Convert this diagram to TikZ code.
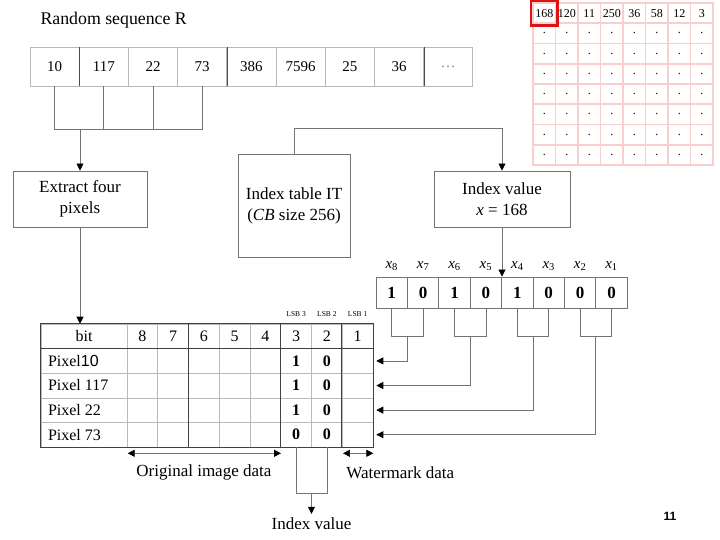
\documentclass[tikz,border=0pt]{standalone}
\usepackage{fontspec}
\setmainfont{Liberation Serif}
\newfontfamily\numfont{Liberation Sans}
\usetikzlibrary{arrows.meta,positioning,calc,fit}
\definecolor{linegray}{RGB}{115,115,115}
\definecolor{cellgray}{RGB}{185,185,185}
\definecolor{gridpink}{RGB}{248,206,206}
\definecolor{markred}{RGB}{222,18,18}
\newcommand{\fsz}[2]{\fontsize{#1}{#2}\selectfont}

\begin{document}
\begin{tikzpicture}[
  x=1pt,y=-1pt,>={Triangle[length=7pt,width=7pt,color=black]},
  wire/.style={draw=linegray,line width=0.7pt},
  dep/.style={wire,->},
  spanarrow/.style={wire,<->},
  procbox/.style={draw=linegray,line width=0.9pt,align=center,inner sep=2pt,font=\fsz{17}{21}},
  seqcell/.style={draw=cellgray,line width=0.8pt,minimum width=49.2pt,minimum height=39pt,inner sep=0pt,font=\fsz{15}{18}},
  bitcell/.style={draw=linegray,line width=0.8pt,minimum width=31.4pt,minimum height=31pt,inner sep=0pt,font=\bfseries\fsz{17}{20}},
  tcell/.style={draw=cellgray,line width=0.6pt,minimum width=30.75pt,minimum height=24.6pt,inner sep=0pt,font=\fsz{16}{19}},
  rowcell/.style={tcell,minimum width=86pt,text width=72pt,align=flush left},
  tabrule/.style={draw=black!75,line width=1pt},
  gcell/.style={draw=gridpink,line width=1.6pt,fill=white,minimum width=22.5pt,minimum height=20.25pt,inner sep=0pt,font=\fsz{12}{14}},
  markbox/.style={draw=markred,line width=2.8pt,inner sep=1.2pt}
]
\fill[white] (0,0) rectangle (720,540);
\useasboundingbox (0,0) rectangle (720,540);
% ---------- random sequence
\node[font=\fsz{17.8}{20},anchor=west] (title) at (37,20) {Random sequence R};
\foreach \v [count=\i] in {10,117,22,73,386,7596,25,36}
  \node[seqcell] (s\i) at ({30+49.2*(\i-0.5)},66.5) {\v};
\node[seqcell,text=black!50] (s9) at ({30+49.2*8.5},66.5) {\dots};
\foreach \i in {1,4,8} \draw[wire,draw=black!70] (s\i.north east) -- (s\i.south east);
% ---------- index table (codebook)
\foreach \v [count=\c] in {168,120,11,250,36,58,12,3}
  \node[gcell] (g-1-\c) at ({533+22.5*(\c-0.5)},13.1) {\v};
\foreach \r in {2,...,8}
  \foreach \c in {1,...,8}
    \node[gcell] (g-\r-\c) at ({533+22.5*(\c-0.5)},{3+20.25*(\r-0.5)}) {.};
\node[markbox,fit=(g-1-1)] (sel) {};
% ---------- process boxes
\node[procbox,minimum width=134pt,minimum height=56pt] (extract) at (80,199) {Extract four\\pixels};
\node[procbox,minimum width=112pt,minimum height=103pt] (IT) at (294,205.5) {Index table IT\\(\textit{CB} size 256)};
\node[procbox,minimum width=136pt,minimum height=56pt] (IV) at (502,199) {Index value\\\textit{x} = 168};
% ---------- bits of x
\foreach \v [count=\i] in {1,0,1,0,1,0,0,0} {
  \pgfmathtruncatemacro\k{9-\i}
  \node[bitcell] (b\k) at ({376+31.4*(\i-0.5)},292.5) {\v};
  \node[font=\fsz{15}{18}] (xl\k) at ({376+31.4*(\i-0.5)},266) {\textit{x}\textsubscript{\k}};
}
% ---------- pixel bit table
\node[rowcell,align=center] (t-0-0) at (84,336.3) {bit};
\foreach \c in {1,...,8} {
  \pgfmathtruncatemacro\n{9-\c}
  \node[tcell] (t-0-\c) at ({127+30.75*(\c-0.5)},336.3) {\n};
}
\foreach \lab/\hi/\lo [count=\r] in {Pixel{\numfont 10}/1/0,Pixel 117/1/0,Pixel 22/1/0,Pixel 73/0/0} {
  \node[rowcell] (t-\r-0) at (84,{324+24.6*(\r+0.5)}) {\lab};
  \foreach \c in {1,...,8}
    \node[tcell] (t-\r-\c) at ({127+30.75*(\c-0.5)},{324+24.6*(\r+0.5)})
      {\ifnum\c=6 \textbf{\hi}\fi\ifnum\c=7 \textbf{\lo}\fi};
}
\draw[tabrule] (t-0-0.north west) rectangle (t-4-8.south east);
\draw[tabrule] (t-0-0.south west) -- (t-0-8.south east);
\foreach \c in {3,6,8} \draw[tabrule] (t-0-\c.north west) -- (t-4-\c.south west);
\foreach \c/\n in {6/3,7/2,8/1}
  \node[font=\fsz{7.5}{8}] (lsb\n) at ($(t-0-\c.north)+(0,-10)$) {LSB \n};
% ---------- connectors
\coordinate (merge) at (80,129);
\draw[wire] (s1.south) |- (s4.south |- merge) -- (s4.south);
\foreach \i in {2,3} \draw[wire] (s\i.south) -- (s\i.south |- merge);
\draw[dep] (merge) -- (extract.north);
\draw[dep] (extract.south) -- (extract.south |- t-0-0.north);
\draw[dep] (IT.north) -- ++(0,-25) -| (IV.north);
\draw[dep] (IV.south) -- (IV.south |- b5.north);
\foreach \hi/\lo [count=\r] in {8/7,6/5,4/3,2/1} {
  \coordinate (m\r) at ($(b\hi.south)!0.5!(b\lo.south)+(0,28)$);
  \draw[wire] (b\hi.south) |- (m\r) -| (b\lo.south);
  \draw[dep] (m\r) |- ([xshift=3pt]t-\r-8.east);
}
% ---------- bottom labels
\draw[spanarrow] ($(t-4-1.south west)+(1,6)$) -- ($(t-4-5.south east)+(0,6)$);
\draw[spanarrow] ($(t-4-8.south west)+(1,6)$) -- ($(t-4-8.south east)+(0,6)$);
\node[font=\fsz{17}{20}] (orig) at ($(t-4-1.south west)!0.5!(t-4-5.south east)+(0,25)$) {Original image data};
\node[font=\fsz{17}{20},anchor=west] (wm) at ($(t-4-8.south west)+(1,25)$) {Watermark data};
\coordinate (iM) at ($(t-4-6.south)!0.5!(t-4-7.south)+(0,46)$);
\draw[wire] (t-4-6.south) |- (iM) -| (t-4-7.south);
\node[font=\fsz{17}{20}] (idx) at ($(iM)+(0,30)$) {Index value};
\draw[dep] (iM) -- (idx.north);
\node[font=\numfont\bfseries\fsz{12}{14}] (pg) at (670,516) {11};
\end{tikzpicture}
\end{document}
